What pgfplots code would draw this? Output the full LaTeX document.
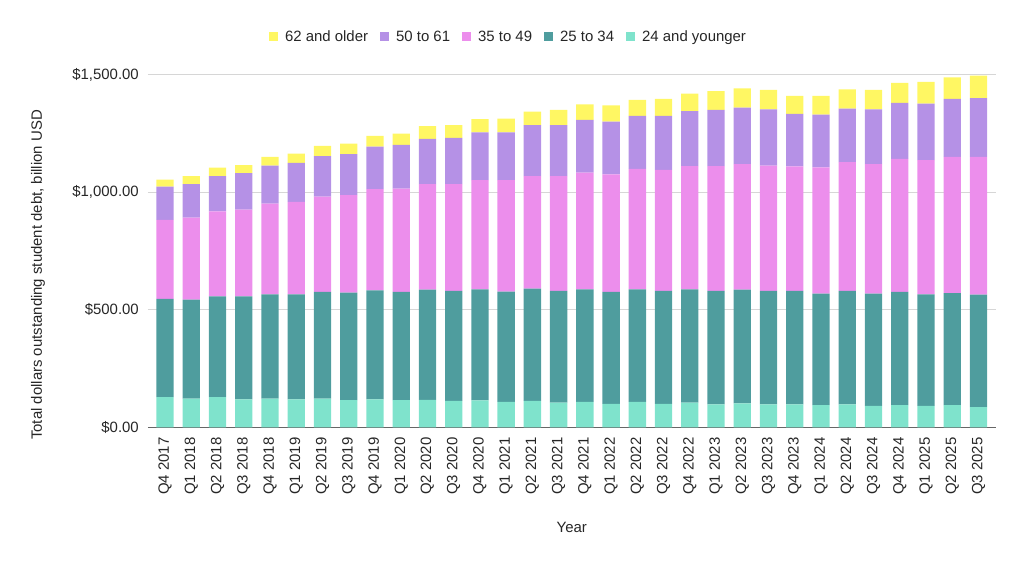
\documentclass[border=0pt]{standalone}
\usepackage{fontspec}
\setmainfont{Liberation Sans}
\usepackage{pgfplots}
\pgfplotsset{compat=1.18}
\usepackage{pgfplotstable}

\definecolor{cYellow}{HTML}{FFF763}
\definecolor{cPurple}{HTML}{B591E6}
\definecolor{cPink}{HTML}{EC8EEC}
\definecolor{cTeal}{HTML}{4F9D9E}
\definecolor{cLight}{HTML}{7FE3CC}

\pgfplotstableread{
x young b c d e
0 128 418 336 142 30
1 122 421 349 143 33
2 128 429 362 149 37
3 119 438 369 155 34
4 122 444 385 162 37
5 119 447 393 166 39
6 122 454 405 173 43
7 116 457 415 174 45
8 119 464 430 181 46
9 116 460 439 186 48
10 117 469 449 192 54
11 112 468 455 196 55
12 115 472 465 203 56
13 108 469 474 204 58
14 112 478 479 216 58
15 105 475 489 216 65
16 108 479 496 225 66
17 100 476 500 224 70
18 108 479 512 226 68
19 100 480 515 230 72
20 105 482 524 234 75
21 98 482 531 239 80
22 102 484 534 240 82
23 98 482 533 240 82
24 98 482 530 223 77
25 94 475 537 224 80
26 98 482 548 228 82
27 91 478 551 233 82
28 94 482 566 238 85
29 91 475 571 240 92
30 94 477 579 247 92
31 86 478 586 250 96
}\debt

\begin{document}
\begin{tikzpicture}
\useasboundingbox (-148bp,-138.7bp) rectangle (876bp,427.3bp);
\begin{axis}[
  at={(0,0)}, anchor=south west,
  scale only axis, width=847.5bp, height=352.6bp,
  ybar stacked, bar width=0.66,
  xmin=-0.65, xmax=31.65, ymin=0, ymax=1500,
  xtick={0,...,31},
  xticklabels={Q4 2017,Q1 2018,Q2 2018,Q3 2018,Q4 2018,Q1 2019,Q2 2019,Q3 2019,Q4 2019,Q1 2020,Q2 2020,Q3 2020,Q4 2020,Q1 2021,Q2 2021,Q3 2021,Q4 2021,Q1 2022,Q2 2022,Q3 2022,Q4 2022,Q1 2023,Q2 2023,Q3 2023,Q4 2023,Q1 2024,Q2 2024,Q3 2024,Q4 2024,Q1 2025,Q2 2025,Q3 2025},
  ytick={500,1000,1500},
  yticklabels={{\$500.00},{\$1,000.00},{\$1,500.00}},
  extra y ticks={0},
  extra y tick labels={{\$0.00}},
  extra y tick style={major grid style={draw=black!60, line width=1bp}},
  ymajorgrids,
  grid style={draw=black!16, line width=0.8bp},
  major tick length=0pt,
  axis line style={draw=none},
  tick label style={font=\fontsize{15}{18}\selectfont, text=black!85, inner sep=0pt},
  xticklabel style={rotate=90, anchor=east},
  xticklabel shift=10bp,
  yticklabel shift=9bp,
  ylabel={Total dollars outstanding student debt, billion USD},
  xlabel={Year},
  label style={font=\fontsize{15}{18}\selectfont, text=black!85},
  ylabel style={at={(axis description cs:-0.1298,0.432)}, anchor=center},
  xlabel style={at={(axis description cs:0.5,-0.2828)}, anchor=center},
  legend columns=-1,
  reverse legend,
  legend style={at={(axis description cs:0.4242,1.1078)}, anchor=center, draw=none, fill=none,
    font=\fontsize{15}{18}\selectfont, text=black!85,
    nodes={inner sep=0pt},
    /tikz/every odd column/.append style={column sep=7bp},
    /tikz/every even column/.append style={column sep=12bp}},
  legend image code/.code={\fill[#1] (0bp,-4.5bp) rectangle (9bp,4.5bp);},
]
\addplot[fill=cLight, draw=none] table[x=x,y=young]{\debt};
\addlegendentry{24 and younger}
\addplot[fill=cTeal, draw=none] table[x=x,y=b]{\debt};
\addlegendentry{25 to 34}
\addplot[fill=cPink, draw=none] table[x=x,y=c]{\debt};
\addlegendentry{35 to 49}
\addplot[fill=cPurple, draw=none] table[x=x,y=d]{\debt};
\addlegendentry{50 to 61}
\addplot[fill=cYellow, draw=none] table[x=x,y=e]{\debt};
\addlegendentry{62 and older}
\end{axis}
\end{tikzpicture}
\end{document}
